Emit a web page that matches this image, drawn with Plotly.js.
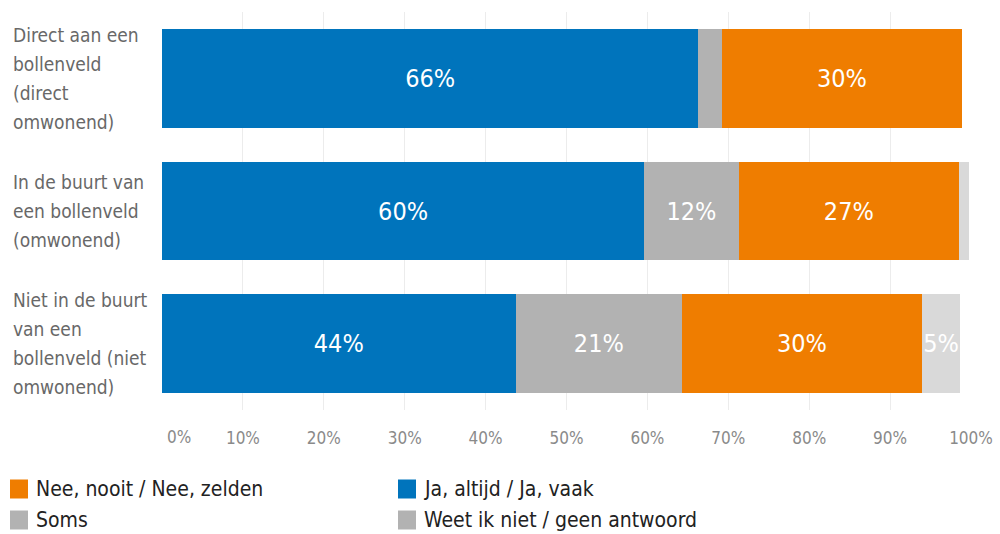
<!DOCTYPE html>
<html>
<head>
<meta charset="utf-8">
<script src="https://cdn.plot.ly/plotly-3.0.1.min.js"></script>
<style>html,body{margin:0;padding:0;background:#fff;}#chart{width:1000px;height:534px;}</style>
</head>
<body>
<div id="chart"></div>
<script>
// ---- data ----
const categories = ["Direct aan een bollenveld (direct omwonend)",
                    "In de buurt van een bollenveld (omwonend)",
                    "Niet in de buurt van een bollenveld (niet omwonend)"];
const categoryLines = [["Direct aan een", "bollenveld", "(direct", "omwonend)"],
                       ["In de buurt van", "een bollenveld", "(omwonend)"],
                       ["Niet in de buurt", "van een", "bollenveld (niet", "omwonend)"]];
const jaValues   = [66.3, 59.6, 43.7];
const somsValues = [2.9, 11.7, 20.6];
const neeValues  = [29.7, 27.2, 29.6];
const weetValues = [0, 1.3, 4.8];
const seriesNames = ["Ja, altijd / Ja, vaak", "Soms", "Nee, nooit / Nee, zelden", "Weet ik niet / geen antwoord"];
const tickValues = [0, 10, 20, 30, 40, 50, 60, 70, 80, 90, 100];
const tickLabels = ["0%", "10%", "20%", "30%", "40%", "50%", "60%", "70%", "80%", "90%", "100%"];

// ---- style ----
const colors = ["#0074bc", "#b2b2b2", "#ef7d00", "#d9d9d9"];
const legendColors = ["#0074bc", "#b2b2b2", "#ef7d00", "#b2b2b2"];
const FONT = "'Liberation Sans Narrow', 'DejaVu Sans Condensed', 'Roboto Condensed', Roboto, sans-serif";
const W = 1000, H = 534;
const M = {l: 162, r: 29, t: 12, b: 124};
const PW = W - M.l - M.r, PH = H - M.t - M.b;
const px = x => (x - M.l) / PW;
const py = y => (M.t + PH - y) / PH;

const allSeries = [jaValues, somsValues, neeValues, weetValues];
const traces = allSeries.map((vals, i) => ({
  type: "bar",
  orientation: "h",
  name: seriesNames[i],
  y: categories,
  x: vals,
  marker: {color: colors[i], line: {width: 0}},
  text: vals.map(v => v >= 4 ? Math.round(v) + "%" : ""),
  textposition: "inside",
  insidetextanchor: "middle",
  textangle: 0,
  textfont: {color: "#ffffff", size: 25, family: FONT},
  hoverinfo: "skip",
  showlegend: false
}));

const annotations = [];
const shapes = [];
// category labels (left aligned, multiline)
const lineGap = 29;
categoryLines.forEach((lines, ci) => {
  const n = lines.length;
  lines.forEach((ln, li) => {
    annotations.push({
      xref: "paper", yref: "y", x: px(11), y: categories[ci],
      xanchor: "left", yanchor: "middle", align: "left",
      text: ln, showarrow: false,
      yshift: -((li - (n - 1) / 2) * lineGap),
      font: {size: 19, color: "#686868", family: FONT}
    });
  });
});
// 0% tick label (shifted inside as in reference)
annotations.push({xref: "paper", yref: "paper", x: px(179), y: py(437), xanchor: "center", yanchor: "middle",
  text: tickLabels[0], showarrow: false, font: {size: 17, color: "#8a8a8a", family: FONT}});

// legend (two columns)
const legendOrder = [2, 0, 1, 3];
const legendPos = [[10, 489], [398, 489], [10, 520], [398, 520]];
legendOrder.forEach((si, k) => {
  const [lx, ly] = legendPos[k];
  shapes.push({type: "rect", xref: "paper", yref: "paper",
    x0: px(lx), x1: px(lx + 18), y0: py(ly - 9.5), y1: py(ly + 9.5),
    fillcolor: legendColors[si], line: {width: 0}});
  annotations.push({xref: "paper", yref: "paper", x: px(lx + 24), y: py(ly),
    xanchor: "left", yanchor: "middle", text: seriesNames[si], showarrow: false,
    font: {size: 21, color: "#222222", family: FONT}});
});

const layout = {
  width: W, height: H,
  margin: M,
  barmode: "stack",
  bargap: 0.255,
  paper_bgcolor: "#ffffff",
  plot_bgcolor: "#ffffff",
  showlegend: false,
  uniformtext: {mode: "show", minsize: 25},
  xaxis: {
    range: [0, 100], tickvals: tickValues,
    ticktext: tickLabels.map((t, i) => i === 0 ? "" : t),
    showgrid: true, gridcolor: "#ececec", gridwidth: 1,
    zeroline: false, showline: false, ticks: "",
    ticklabelstandoff: 16,
    tickfont: {size: 17, color: "#8a8a8a", family: FONT},
    fixedrange: true
  },
  yaxis: {
    type: "category", autorange: "reversed",
    showticklabels: false, showgrid: false, zeroline: false, showline: false, ticks: "",
    fixedrange: true
  },
  annotations: annotations,
  shapes: shapes,
  font: {family: FONT}
};

Plotly.newPlot("chart", traces, layout, {displayModeBar: false, staticPlot: true});
</script>
</body>
</html>
